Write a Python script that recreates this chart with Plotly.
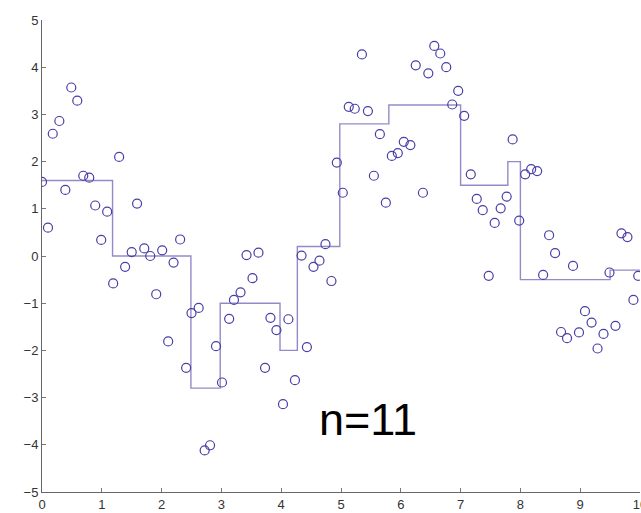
import plotly.graph_objects as go

# Scatter data
x_pts = [0.00, 0.10, 0.18, 0.29, 0.39, 0.49, 0.59, 0.69, 0.79, 0.89,
         0.99, 1.09, 1.19, 1.29, 1.39, 1.50, 1.59, 1.71, 1.81, 1.91,
         2.01, 2.11, 2.20, 2.31, 2.41, 2.50, 2.62, 2.72, 2.81, 2.91,
         3.01, 3.13, 3.21, 3.32, 3.42, 3.52, 3.62, 3.73, 3.82, 3.92,
         4.03, 4.12, 4.23, 4.34, 4.43, 4.54, 4.64, 4.74, 4.84, 4.93,
         5.03, 5.13, 5.23, 5.35, 5.45, 5.55, 5.65, 5.75, 5.85, 5.95,
         6.05, 6.16, 6.25, 6.37, 6.46, 6.56, 6.66, 6.76, 6.86, 6.96,
         7.06, 7.17, 7.27, 7.37, 7.47, 7.57, 7.67, 7.77, 7.87, 7.98,
         8.08, 8.18, 8.28, 8.38, 8.48, 8.58, 8.68, 8.78, 8.88, 8.98,
         9.08, 9.19, 9.29, 9.39, 9.49, 9.59, 9.69, 9.79, 9.89, 9.97]
y_pts = [1.57, 0.60, 2.59, 2.86, 1.40, 3.57, 3.29, 1.70, 1.66, 1.07,
         0.34, 0.94, -0.58, 2.10, -0.23, 0.08, 1.11, 0.16, 0.00, -0.81,
         0.12, -1.81, -0.14, 0.35, -2.37, -1.21, -1.10, -4.12, -4.01, -1.91,
         -2.68, -1.33, -0.93, -0.77, 0.02, -0.47, 0.07, -2.37, -1.31, -1.57,
         -3.14, -1.34, -2.63, 0.01, -1.93, -0.23, -0.10, 0.25, -0.53, 1.98,
         1.34, 3.16, 3.12, 4.27, 3.07, 1.70, 2.58, 1.13, 2.12, 2.18,
         2.42, 2.35, 4.04, 1.34, 3.87, 4.45, 4.29, 4.00, 3.21, 3.50,
         2.97, 1.73, 1.21, 0.97, -0.42, 0.70, 1.01, 1.26, 2.47, 0.75,
         1.73, 1.84, 1.80, -0.40, 0.44, 0.06, -1.61, -1.74, -0.21, -1.62,
         -1.17, -1.41, -1.96, -1.65, -0.35, -1.48, 0.48, 0.40, -0.93, -0.42]

# Piecewise-constant fit
step_edges = [0, 1.18, 2.49, 2.98, 3.98, 4.27, 4.98, 5.80, 7.00, 7.79, 8.00, 9.50, 10.0]
step_levels = [1.6, 0.0, -2.8, -1.0, -2.0, 0.2, 2.8, 3.2, 1.5, 2.0, -0.5, -0.3]

x_ticks = [0, 1, 2, 3, 4, 5, 6, 7, 8, 9, 10]
y_ticks = [-5, -4, -3, -2, -1, 0, 1, 2, 3, 4, 5]

fig = go.Figure()
fig.add_trace(go.Scatter(
    x=step_edges, y=step_levels + [step_levels[-1]],
    mode="lines", line=dict(shape="hv", color="rgba(120,110,185,0.8)", width=1.4),
    hoverinfo="skip", showlegend=False))
fig.add_trace(go.Scatter(
    x=x_pts, y=y_pts, mode="markers",
    marker=dict(symbol="circle-open", size=9, color="rgb(72,62,165)", line=dict(width=1.2)),
    showlegend=False))

fig.add_annotation(x=5.45, y=-3.47, text="n=11", showarrow=False,
                   font=dict(family="Liberation Sans, Arial", size=45, color="black"),
                   xanchor="center", yanchor="middle")

axis_common = dict(showgrid=False, zeroline=False, showline=True, linecolor="#666666",
                   linewidth=1, ticks="inside", ticklen=4, tickcolor="#777777",
                   tickfont=dict(family="Liberation Sans, Arial", size=13, color="#333333"),
                   mirror=False, ticklabeloverflow="allow", automargin=False)
fig.update_xaxes(range=[0, 10], tickvals=x_ticks, **axis_common)
fig.update_yaxes(range=[-5, 5], tickvals=y_ticks, **axis_common)

fig.update_layout(width=641, height=513, margin=dict(l=42, r=1, t=20, b=21),
                  plot_bgcolor="white", paper_bgcolor="white", showlegend=False)

fig.write_html("out.html")
